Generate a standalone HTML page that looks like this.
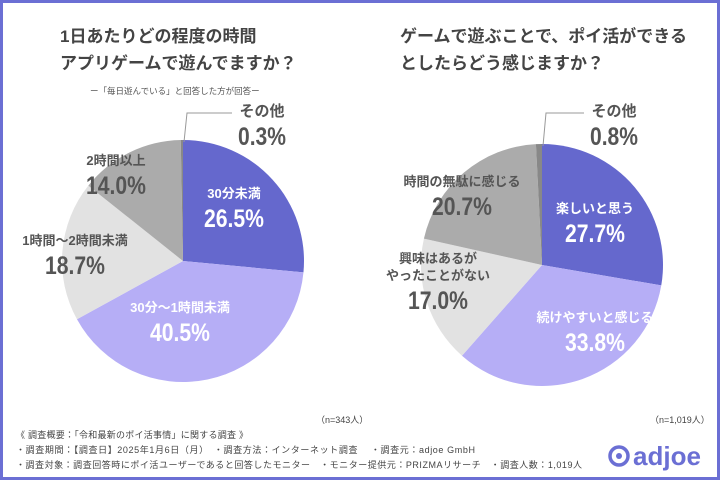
<!DOCTYPE html>
<html><head><meta charset="utf-8">
<style>
html,body{margin:0;padding:0;}
body{width:720px;height:480px;overflow:hidden;background:#fff;font-family:"Liberation Sans","Noto Sans CJK JP",sans-serif;}
#frame{position:absolute;left:0;top:0;width:714px;height:474px;border:3px solid #6b6fd4;background:#fff;}
svg{position:absolute;left:0;top:0;}
</style></head>
<body>
<div id="frame"></div>
<svg id="chart" width="720" height="480" font-family="Liberation Sans, Noto Sans CJK JP, sans-serif">
  <text x="60" y="42" font-size="17" font-weight="bold" fill="#444">1日あたりどの程度の時間</text>
  <text x="60" y="69" font-size="17" font-weight="bold" fill="#444">アプリゲームで遊んでますか？</text>
  <text x="90" y="94" font-size="8.5" fill="#555">ー「毎日遊んでいる」と回答した方が回答ー</text>
  <text x="400" y="42" font-size="17" font-weight="bold" fill="#444">ゲームで遊ぶことで、ポイ活ができる</text>
  <text x="400" y="69" font-size="17" font-weight="bold" fill="#444">としたらどう感じますか？</text>
  <g id="left-pie"></g>
  <g id="right-pie"></g>
  <text x="316" y="423" font-size="9" fill="#444">（n=343人）</text>
  <text x="650" y="423" font-size="9" fill="#444">（n=1,019人）</text>
  <text x="16" y="438" font-size="9" fill="#444" textLength="232">《 調査概要：「令和最新のポイ活事情」に関する調査 》</text>
  <text x="16" y="453" font-size="9" fill="#444" textLength="459">・調査期間：【調査日】2025年1月6日（月）　・調査方法：インターネット調査　 ・調査元：adjoe GmbH</text>
  <text x="16" y="468" font-size="9" fill="#444" textLength="566">・調査対象：調査回答時にポイ活ユーザーであると回答したモニター　・モニター提供元：PRIZMAリサーチ　・調査人数：1,019人</text>
  <g>
    <circle cx="619" cy="456" r="9" fill="none" stroke="#6b6fd4" stroke-width="3.5"/>
    <circle cx="619" cy="456" r="3" fill="#6b6fd4"/>
    <text x="633" y="465" font-size="26" fill="#6b6fd4" font-weight="bold">adjoe</text>
  </g>
</svg>
<script>
const leftCategories = ["30分未満","30分〜1時間未満","1時間〜2時間未満","2時間以上","その他"];
const leftValues = [26.5, 40.5, 18.7, 14.0, 0.3];
const rightCategories = ["楽しいと思う","続けやすいと感じる","興味はあるが|やったことがない","時間の無駄に感じる","その他"];
const rightValues = [27.7, 33.8, 17.0, 20.7, 0.8];
const colors = ["#6568cd","#b6aef6","#e2e2e2","#ababab","#888"];
const textColors = ["#fff","#fff","#555","#555","#555"];
const NS = "http://www.w3.org/2000/svg";

function drawPie(gid, cats, vals, cx, cy, r, labelPos, prefix){
  const g = document.getElementById(gid);
  const total = vals.reduce((a,b)=>a+b,0);
  let a0 = 0;
  vals.forEach((v,i)=>{
    const a1 = a0 + v/total*Math.PI*2;
    const x0 = cx + r*Math.sin(a0), y0 = cy - r*Math.cos(a0);
    const x1 = cx + r*Math.sin(a1), y1 = cy - r*Math.cos(a1);
    const large = (a1-a0) > Math.PI ? 1 : 0;
    const p = document.createElementNS(NS,"path");
    p.setAttribute("d",`M${cx},${cy} L${x0},${y0} A${r},${r} 0 ${large} 1 ${x1},${y1} Z`);
    p.setAttribute("fill",colors[i]);
    
    
    g.appendChild(p);
    const lp = labelPos[i];
    const lines = cats[i].split("|");
    const t = document.createElementNS(NS,"text");
    t.setAttribute("text-anchor","middle");
    t.setAttribute("fill",textColors[i]);
    
    
    lines.forEach((ln,k)=>{
      const ts = document.createElementNS(NS,"tspan");
      ts.setAttribute("x",lp[0]); ts.setAttribute("y",lp[1]+k*17);
      ts.setAttribute("font-size", i===4 ? "15" : "13"); ts.setAttribute("font-weight","bold");
      ts.textContent = ln; t.appendChild(ts);
    });
    g.appendChild(t);
    const label = vals[i].toFixed(1)+"%";
    const tv = document.createElementNS(NS,"text");
    tv.setAttribute("x",lp[0]); tv.setAttribute("y",lp[1]+(lines.length-1)*17+29);
    tv.setAttribute("text-anchor","middle");
    tv.setAttribute("fill",textColors[i]);
    tv.setAttribute("font-size","25"); tv.setAttribute("font-weight","bold");
    tv.setAttribute("textLength", label.length*12);
    tv.setAttribute("lengthAdjust","spacingAndGlyphs");
    
    
    tv.textContent = label;
    g.appendChild(tv);
    a0 = a1;
  });
  const last = labelPos[4];
  const l = document.createElementNS(NS,"polyline");
  l.setAttribute("points",`${cx+1},${cy-r+2} ${cx+4},${last[1]-3} ${last[0]-30},${last[1]-3}`);
  l.setAttribute("fill","none"); l.setAttribute("stroke","#999"); l.setAttribute("stroke-width","1");
  
  
  g.appendChild(l);
}
drawPie("left-pie", leftCategories, leftValues, 183, 261, 121,
  [[234,198],[180,312],[75,245],[116,165],[262,116]], "left");
drawPie("right-pie", rightCategories, rightValues, 542, 265, 121,
  [[595,213],[595,322],[438,263],[462,186],[614,116]], "right");
</script>
</body></html>
